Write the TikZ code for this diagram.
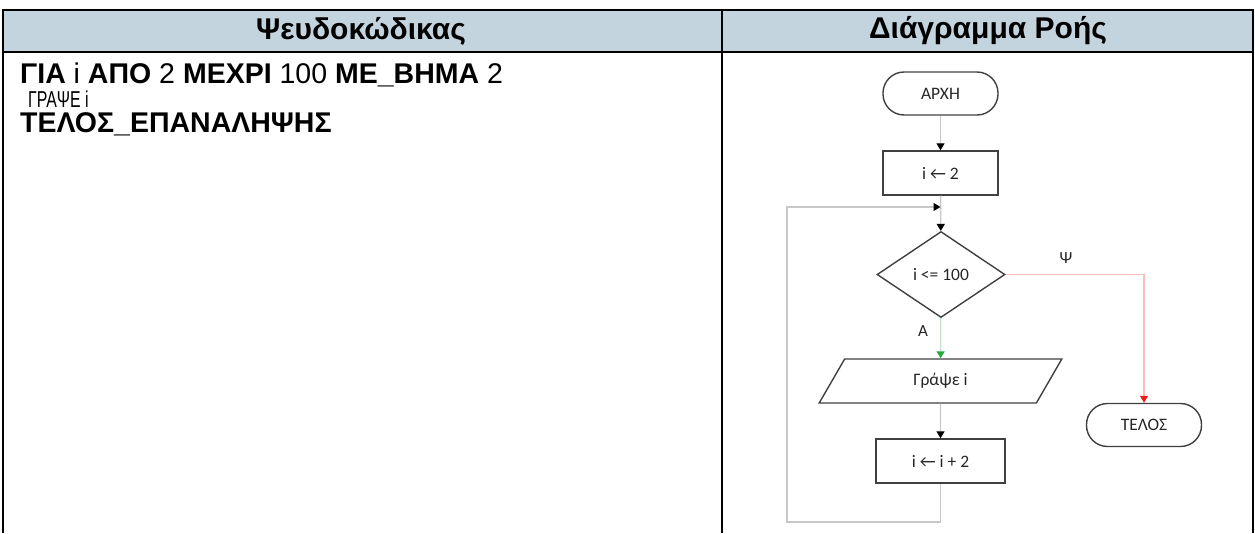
\documentclass[tikz,border=0pt]{standalone}
\usepackage{fontspec}
\setmainfont{Liberation Sans}
\newfontfamily\narrowfont[FakeStretch=0.69]{Liberation Sans}
\newfontfamily\flowfont{Carlito}
\usetikzlibrary{arrows.meta,shapes.geometric}
\definecolor{hdr}{RGB}{196,212,223}
\definecolor{conn}{RGB}{200,200,200}
\definecolor{shp}{RGB}{64,64,64}
\definecolor{yesg}{RGB}{40,170,60}
\definecolor{yesl}{RGB}{195,228,200}
\definecolor{nor}{RGB}{235,30,30}
\definecolor{nol}{RGB}{248,190,190}
\tikzset{
  flowtext/.style={font=\flowfont\fontsize{17.5}{20}\selectfont,text=black!85},
  term/.style={draw=shp,line width=1.4pt,rounded corners=21pt,minimum width=115pt,minimum height=43pt,inner sep=0pt,flowtext},
  procbox/.style={draw=shp,line width=1.4pt,minimum width=115pt,minimum height=44pt,inner sep=0pt,flowtext},
  decbox/.style={draw=shp,line width=1.4pt,diamond,minimum width=128pt,minimum height=86pt,inner sep=0pt,flowtext},
  iobox/.style={draw=shp,line width=1.4pt,trapezium,trapezium left angle=64.5,trapezium right angle=115.5,trapezium stretches=true,minimum width=243pt,minimum height=44pt,inner sep=0pt,flowtext},
  cl/.style={draw=conn,line width=1.3pt,-{Triangle[width=8pt,length=7pt,black]}},
  yesline/.style={draw=yesl,line width=1.3pt,-{Triangle[width=8pt,length=7pt,yesg]}},
  noline/.style={draw=nol,line width=1.3pt,-{Triangle[width=8pt,length=7pt,nor]}},
  lbl/.style={font=\flowfont\fontsize{17}{19}\selectfont,inner sep=0pt,text=black!85},
  hdrtext/.style={font=\bfseries\fontsize{30}{34}\selectfont,inner sep=0pt},
  codetext/.style={font=\fontsize{28.5}{30}\selectfont,inner sep=0pt,anchor=west},
}
\begin{document}
\begin{tikzpicture}[x=1pt,y=-1pt]
\useasboundingbox (0,0) rectangle (1255,533);
% table
\fill[hdr] (3,10) rectangle (1253,52);
\draw[line width=1.5pt] (3,52) -- (3,533);
\draw[line width=1.5pt] (722,52) -- (722,533);
\draw[line width=1.5pt] (1253,52) -- (1253,533);
\draw[line width=2.6pt] (3,10) rectangle (1253,52);
\draw[line width=2.6pt] (722,10) -- (722,52);
\node[hdrtext] (h1) at (361,31) {Ψευδοκώδικας};
\node[hdrtext] (h2) at (988,31) {Διάγραμμα Ροής};
% pseudocode
\node[codetext] (c1) at (20,75) {\textbf{ΓΙΑ} i \textbf{ΑΠΟ} 2 \textbf{ΜΕΧΡΙ} 100 \textbf{ΜΕ\_ΒΗΜΑ} 2};
\node[codetext,font=\narrowfont\fontsize{23}{25}\selectfont] (c2) at (28,99.5) {ΓΡΑΨΕ i};
\node[codetext] (c3) at (20,124.5) {\textbf{ΤΕΛΟΣ\_ΕΠΑΝΑΛΗΨΗΣ}};
% flowchart
\node[term] (start) at (940.5,93.5) {ΑΡΧΗ};
\node[procbox] (init) at (940.5,173) {i ← 2};
\node[decbox] (dec) at (941,274.5) {i <= 100};
\node[iobox] (out) at (940.5,381) {Γράψε i};
\node[procbox,minimum width=129pt] (inc) at (940.5,461) {i ← i + 2};
\node[term] (end) at (1144,425) {ΤΕΛΟΣ};
\coordinate (lp) at (940.5,207);
\coordinate (lb) at (787,522);
\draw[cl] (start) -- (init);
\draw[cl] (init) -- (dec);
\draw[cl] (inc.south) |- (lb) |- (lp);
\draw[yesline] (dec) -- (out);
\draw[cl] (out) -- (inc);
\draw[noline] (dec.east) -| (end.north);
\node[lbl] (ly) at (1066,258) {Ψ};
\node[lbl] (la) at (923,331) {Α};
\end{tikzpicture}
\end{document}
